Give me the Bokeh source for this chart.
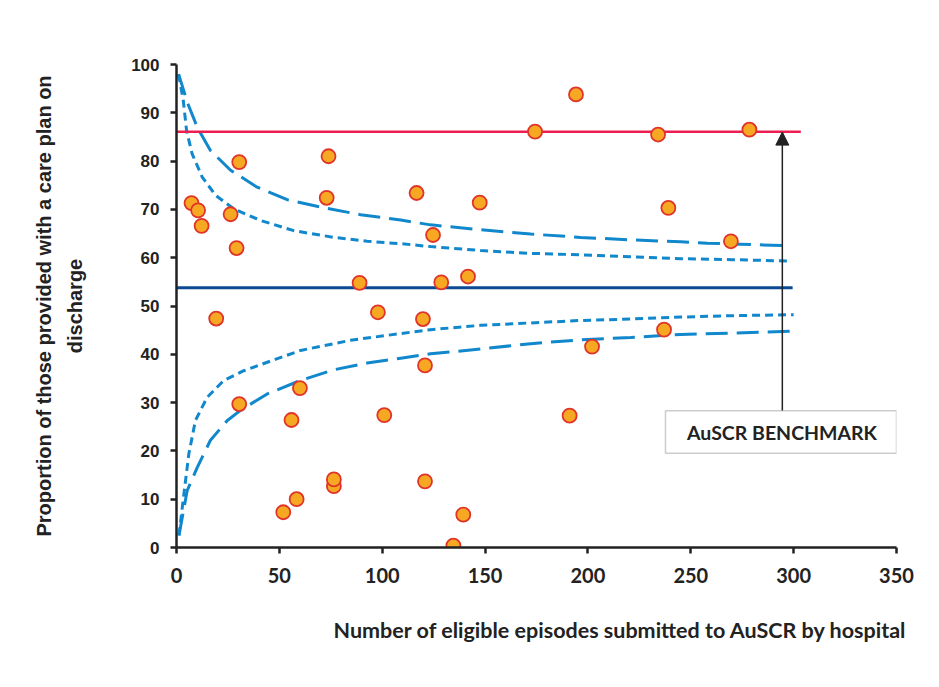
from bokeh.plotting import figure
from bokeh.models import FixedTicker, Label, Arrow, NormalHead, BoxAnnotation, Title
from bokeh.embed import file_html
from bokeh.resources import INLINE

# Hospitals: eligible episodes submitted and % discharged with a care plan
episodes = [7.3, 10.5, 12.2, 19.3, 26.3, 29.2, 30.5, 30.5, 51.9, 55.9, 58.4, 60.0,
            73.0, 73.9, 76.5, 76.5, 89.0, 97.9, 101.0, 116.7, 119.8, 120.8, 120.8,
            124.7, 128.7, 134.6, 139.4, 141.7, 147.4, 174.3, 191.1, 194.2, 202.0,
            234.1, 237.0, 239.1, 269.5, 278.5]
care_plan_pct = [71.3, 69.8, 66.6, 47.4, 69.0, 62.0, 79.8, 29.7, 7.3, 26.4, 10.0, 33.0,
                 72.4, 81.0, 12.7, 14.1, 54.8, 48.7, 27.4, 73.4, 47.3, 37.7, 13.7,
                 64.7, 54.9, 0.4, 6.8, 56.1, 71.4, 86.1, 27.3, 93.8, 41.6,
                 85.5, 45.1, 70.3, 63.4, 86.5]

# National mean and benchmark
mean_x = [0, 299.5]
mean_y = [53.8, 53.8]
bench_x = [0, 303.5]
bench_y = [86.1, 86.1]

# Control limits (outer = long dash, inner = short dash)
upper_outer_x = [1.0, 5.5, 10.1, 16.5, 26.3, 39.2, 53.8, 73.3, 89.5, 109.0, 123.5, 147.9,
                 172.2, 196.5, 220.8, 245.1, 258.1, 280.0, 296.2]
upper_outer_y = [98.0, 91.9, 87.0, 82.2, 78.1, 74.6, 72.0, 70.2, 68.9, 67.8, 66.8, 65.8,
                 64.9, 64.2, 63.7, 63.3, 63.0, 62.7, 62.5]
upper_inner_x = [1.0, 3.3, 4.9, 7.6, 12.5, 19.0, 27.9, 40.9, 57.0, 76.5, 92.7, 109.0,
                 123.5, 147.9, 172.2, 196.5, 220.8, 245.1, 270.0, 298.0]
upper_inner_y = [98.0, 92.5, 86.3, 81.5, 76.7, 72.9, 70.1, 67.7, 65.6, 64.2, 63.4, 62.9,
                 62.3, 61.5, 60.9, 60.6, 60.2, 59.8, 59.6, 59.3]
lower_inner_x = [1.2, 3.6, 6.0, 9.2, 14.9, 23.0, 32.7, 49.0, 60.3, 84.6, 109.0, 123.5,
                 147.9, 172.2, 196.5, 220.8, 245.1, 270.0, 300.0]
lower_inner_y = [2.5, 11.1, 19.4, 26.3, 31.1, 34.6, 36.6, 39.1, 40.8, 42.9, 44.3, 45.1,
                 46.0, 46.5, 47.0, 47.3, 47.7, 48.0, 48.2]
lower_outer_x = [1.2, 5.2, 10.1, 16.5, 24.7, 31.1, 44.1, 60.3, 76.5, 92.7, 109.0, 123.5,
                 147.9, 172.2, 196.5, 220.8, 245.1, 270.0, 299.5]
lower_outer_y = [2.5, 11.8, 16.6, 22.2, 26.3, 28.4, 31.8, 34.6, 36.8, 38.2, 39.2, 40.1,
                 41.1, 42.2, 43.0, 43.5, 44.1, 44.4, 44.8]

x_ticks = [0, 50, 100, 150, 200, 250, 300, 350]
y_ticks = [0, 10, 20, 30, 40, 50, 60, 70, 80, 90, 100]

p = figure(width=939, height=687, x_range=(0, 350), y_range=(0, 100),
           output_backend="svg", toolbar_location=None,
           min_border_left=176, min_border_right=43,
           min_border_top=64, min_border_bottom=140)
p.outline_line_color = None
p.xgrid.visible = False
p.ygrid.visible = False
p.background_fill_color = "white"
p.border_fill_color = "white"

for ax in (p.xaxis[0], p.yaxis[0]):
    ax.axis_line_width = 2.5
    ax.axis_line_color = "#222222"
    ax.major_tick_line_width = 2.5
    ax.major_tick_line_color = "#222222"
    ax.major_tick_in = 0
    ax.major_tick_out = 6
    ax.minor_tick_line_color = None
    ax.major_label_text_color = "#222222"
    ax.major_label_text_font_style = "bold"

p.xaxis.ticker = FixedTicker(ticks=x_ticks)
p.yaxis.ticker = FixedTicker(ticks=y_ticks)
p.xaxis.major_label_text_font = "Lato"
p.xaxis.major_label_text_font_size = "20px"
p.xaxis.major_label_standoff = 14
p.yaxis.major_label_text_font = "Liberation Sans"
p.yaxis.major_label_text_font_size = "17px"
p.yaxis.major_label_standoff = 11

# y-axis title on two lines
p.yaxis.axis_label = "Proportion of those provided with a care plan on\ndischarge"
p.yaxis.axis_label_text_font = "Liberation Sans"
p.yaxis.axis_label_text_font_style = "bold"
p.yaxis.axis_label_text_font_size = "20px"
p.yaxis.axis_label_text_line_height = 1.4
p.yaxis.axis_label_text_color = "#222222"
p.yaxis.axis_label_standoff = 42

# x-axis title, right-aligned near the end of the axis
p.add_layout(Title(text="Number of eligible episodes submitted to AuSCR by hospital",
                   align="right", offset=-11, standoff=58, text_font="Lato",
                   text_font_style="bold", text_font_size="21.5px",
                   text_color="#222222"), "below")

blue = "#1187cc"
p.line(upper_outer_x, upper_outer_y, line_color=blue, line_width=3, line_dash="22 9")
p.line(lower_outer_x, lower_outer_y, line_color=blue, line_width=3, line_dash="22 9")
p.line(upper_inner_x, upper_inner_y, line_color=blue, line_width=3, line_dash="8 5")
p.line(lower_inner_x, lower_inner_y, line_color=blue, line_width=3, line_dash="8 5")

p.line(mean_x, mean_y, line_color="#0b4a93", line_width=3)
p.line(bench_x, bench_y, line_color="#ec1f50", line_width=2.5)

p.scatter(episodes, care_plan_pct, size=14, fill_color="#f7a823",
          line_color="#e0342a", line_width=1.8)

# Benchmark callout
p.add_layout(Arrow(end=NormalHead(size=13, fill_color="#222222", line_color="#222222"),
                   x_start=294.5, y_start=28.3, x_end=294.5, y_end=86.0,
                   line_color="#222222", line_width=1.5))
p.add_layout(BoxAnnotation(left=237.7, right=350, bottom=19.5, top=28.3,
                           fill_color="white", fill_alpha=1.0,
                           line_color="#555555", line_width=1.5))
p.add_layout(Label(x=294.3, y=23.9, text="AuSCR BENCHMARK", text_align="center",
                   text_baseline="middle", text_font="Lato", text_font_style="bold",
                   text_font_size="19.5px", text_color="#222222"))

open("out.html", "w").write(file_html(p, INLINE))
